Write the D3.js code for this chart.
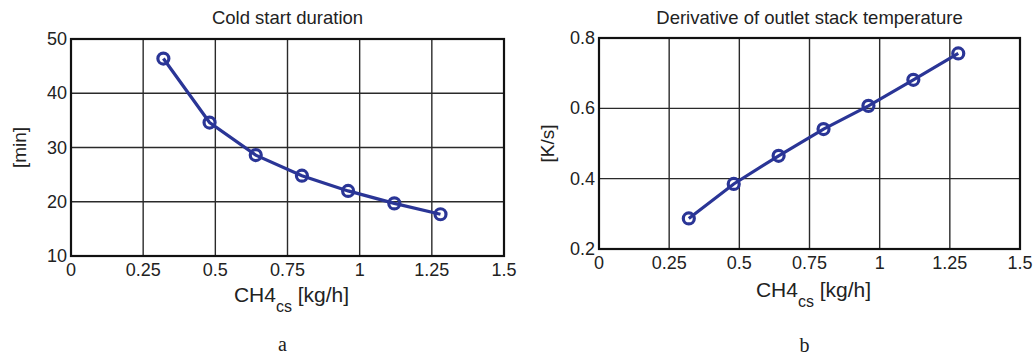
<!DOCTYPE html>
<html>
<head>
<meta charset="utf-8">
<script src="https://cdn.jsdelivr.net/npm/d3@7"></script>
<style>
  body { margin: 0; background: #fff; }
  text { font-family: Arial, "Liberation Sans", sans-serif; fill: #222; }
</style>
</head>
<body>
<div class="canvas"></div>
<script>
// Data
const ch4Flow = [0.32, 0.48, 0.64, 0.80, 0.96, 1.12, 1.28]
const coldStartMin = [46.4, 34.6, 28.6, 24.8, 22.0, 19.7, 17.7]
const tempDerivative = [0.287, 0.385, 0.465, 0.541, 0.607, 0.681, 0.756]

const xTicks = [0, 0.25, 0.5, 0.75, 1, 1.25, 1.5]
const yTicksA = [10, 20, 30, 40, 50]
const yTicksB = [0.2, 0.4, 0.6, 0.8]

const lineColor = '#2a3596'

const svg = d3.select('.canvas')
  .append('svg')
    .attr('width', 1033)
    .attr('height', 359)

const panels = [
  {
    box: { left: 71, right: 504, top: 39, bottom: 256 },
    title: 'Cold start duration', yLabel: '[min]', tag: 'a',
    values: coldStartMin, yDomain: [10, 50], yTicks: yTicksA, yFormat: d => d,
    yLabelX: 19, xLabelY: 302, tagY: 351
  },
  {
    box: { left: 599, right: 1020, top: 38, bottom: 249 },
    title: 'Derivative of outlet stack temperature', yLabel: '[K/s]', tag: 'b',
    values: tempDerivative, yDomain: [0.2, 0.8], yTicks: yTicksB, yFormat: d3.format('.1f'),
    yLabelX: 547, xLabelY: 297, tagY: 352
  }
]

const xFormat = d => String(d)

panels.forEach(p => {
  const b = p.box
  const x = d3.scaleLinear().domain([0, 1.5]).range([b.left, b.right])
  const y = d3.scaleLinear().domain(p.yDomain).range([b.bottom, b.top])
  const g = svg.append('g')

  // grid
  g.selectAll('line.vgrid').data(xTicks).enter()
    .append('line')
      .attr('x1', d => x(d)).attr('x2', d => x(d))
      .attr('y1', b.top).attr('y2', b.bottom)
      .attr('stroke', '#2a2a2a').attr('stroke-width', 1.4)
  g.selectAll('line.hgrid').data(p.yTicks).enter()
    .append('line')
      .attr('x1', b.left).attr('x2', b.right)
      .attr('y1', d => y(d)).attr('y2', d => y(d))
      .attr('stroke', '#2a2a2a').attr('stroke-width', 1.4)

  // frame
  g.append('rect')
    .attr('x', b.left).attr('y', b.top)
    .attr('width', b.right - b.left).attr('height', b.bottom - b.top)
    .attr('fill', 'none').attr('stroke', '#111').attr('stroke-width', 2.2)

  // x tick labels
  g.selectAll('text.xt').data(xTicks).enter()
    .append('text')
      .attr('x', d => x(d)).attr('y', b.bottom + 20)
      .attr('text-anchor', 'middle')
      .attr('font-size', 18)
      .text(xFormat)

  // y tick labels
  g.selectAll('text.yt').data(p.yTicks).enter()
    .append('text')
      .attr('x', b.left - 4).attr('y', d => y(d) + 6)
      .attr('text-anchor', 'end')
      .attr('font-size', 18)
      .text(p.yFormat)

  // title
  g.append('text')
    .attr('x', (b.left + b.right) / 2).attr('y', 24)
    .attr('text-anchor', 'middle')
    .attr('font-size', 18.5)
    .text(p.title)

  // x label with subscript
  const xl = g.append('text')
    .attr('x', (b.left + b.right) / 2 + 4).attr('y', p.xLabelY)
    .attr('text-anchor', 'middle')
    .attr('font-size', 21)
  xl.append('tspan').text('CH4')
  xl.append('tspan').attr('dy', 10).attr('font-size', 16).text('cs')
  xl.append('tspan').attr('dy', -10).text(' [kg/h]')

  // y label
  g.append('text')
    .attr('transform', `translate(${p.yLabelX} ${(b.top + b.bottom) / 2}) rotate(-90)`)
    .attr('text-anchor', 'middle')
    .attr('dy', '0.35em')
    .attr('font-size', 19)
    .text(p.yLabel)

  // panel tag
  g.append('text')
    .attr('x', (b.left + b.right) / 2 - 5).attr('y', p.tagY)
    .attr('text-anchor', 'middle')
    .attr('font-size', 20)
    .style('font-family', '"Liberation Serif", "Times New Roman", serif')
    .text(p.tag)

  // series
  const pts = ch4Flow.map((v, i) => [v, p.values[i]])
  const line = d3.line().x(d => x(d[0])).y(d => y(d[1]))
  g.append('path')
    .attr('d', line(pts))
    .attr('fill', 'none')
    .attr('stroke', lineColor)
    .attr('stroke-width', 3.2)
  g.selectAll('circle').data(pts).enter()
    .append('circle')
      .attr('cx', d => x(d[0])).attr('cy', d => y(d[1]))
      .attr('r', 5.5)
      .attr('fill', 'none')
      .attr('stroke', lineColor)
      .attr('stroke-width', 3.2)
})
</script>
</body>
</html>
